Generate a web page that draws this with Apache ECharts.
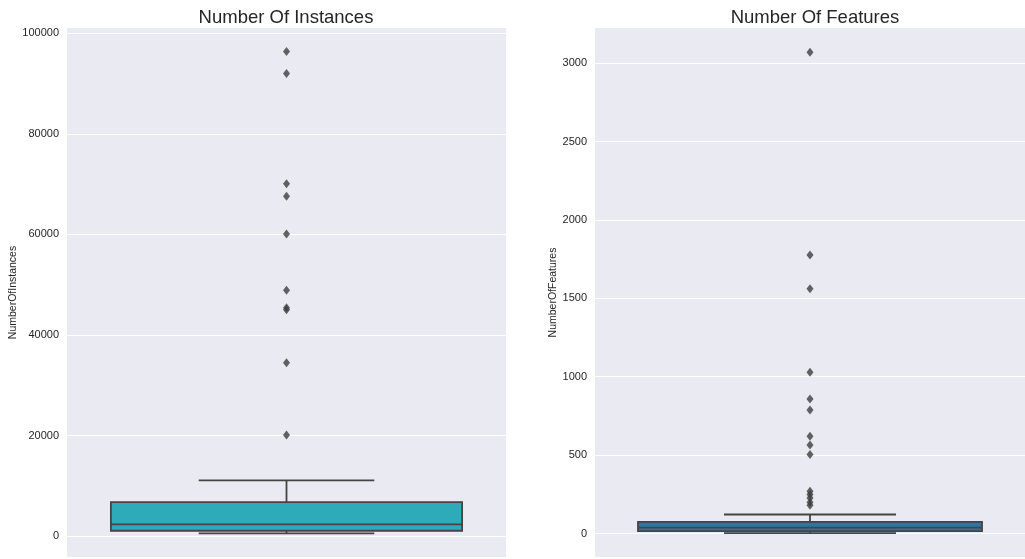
<!DOCTYPE html>
<html>
<head>
<meta charset="utf-8">
<script src="https://cdn.jsdelivr.net/npm/echarts@6/dist/echarts.min.js"></script>
<style>html,body{margin:0;padding:0;background:#fff}#c{width:1025px;height:559px}</style>
</head>
<body>
<div id="c"></div>
<script>
// ---- data ----
const titles = ['Number Of Instances', 'Number Of Features'];
const axisNames = ['NumberOfInstances', 'NumberOfFeatures'];
// [lower whisker, Q1, median, Q3, upper whisker]
const instStats = [540, 1070, 2330, 6780, 11070];
const instOutliers = [20100, 34500, 45000, 45400, 48900, 60100, 67600, 70100, 92000, 96400];
const featStats = [2, 15, 38, 74, 121];
const featOutliers = [180, 200, 226, 248, 270, 504, 564, 621, 788, 858, 1028, 1562, 1776, 3070];
const instTicks = [0, 20000, 40000, 60000, 80000, 100000];
const featTicks = [0, 500, 1000, 1500, 2000, 2500, 3000];
const instRange = [-4150, 101050];
const featRange = [-150, 3225];

const boxColors = ['#2eabb8', '#3274a1'];
const lineColor = '#444444';
const textColor = '#262626';
const font = 'Liberation Sans, Arial, sans-serif';

function makeRender(fill) {
  return function (params, api) {
    const x = api.value(0);
    const lo = api.coord([x, api.value(1)]);
    const q1 = api.coord([x, api.value(2)]);
    const med = api.coord([x, api.value(3)]);
    const q3 = api.coord([x, api.value(4)]);
    const hi = api.coord([x, api.value(5)]);
    const band = api.size([1, 0])[0];
    const bw = band * 0.8, cw = band * 0.4;
    const cx = lo[0];
    const st = { stroke: lineColor, lineWidth: 1.8, fill: null };
    return {
      type: 'group',
      children: [
        { type: 'line', shape: { x1: cx, y1: hi[1], x2: cx, y2: q3[1] }, style: st },
        { type: 'line', shape: { x1: cx, y1: q1[1], x2: cx, y2: lo[1] }, style: st },
        { type: 'line', shape: { x1: cx - cw / 2, y1: hi[1], x2: cx + cw / 2, y2: hi[1] }, style: st },
        { type: 'line', shape: { x1: cx - cw / 2, y1: lo[1], x2: cx + cw / 2, y2: lo[1] }, style: st },
        { type: 'rect', shape: { x: cx - bw / 2, y: q3[1], width: bw, height: q1[1] - q3[1] },
          style: { fill: fill, stroke: lineColor, lineWidth: 1.8 } },
        { type: 'line', shape: { x1: cx - bw / 2, y1: med[1], x2: cx + bw / 2, y2: med[1] }, style: st }
      ]
    };
  };
}

function yAxis(idx, range, ticks, name, gap) {
  return {
    type: 'value', gridIndex: idx, min: range[0], max: range[1],
    name: name, nameLocation: 'middle', nameGap: gap,
    nameTextStyle: { fontSize: 10.5, color: textColor, fontFamily: font },
    axisLine: { show: false }, axisTick: { show: false, customValues: ticks },
    axisLabel: { fontSize: 11, color: textColor, fontFamily: font, margin: 8, customValues: ticks,
      formatter: v => String(v) },
    splitLine: { show: false }
  };
}
function xAxis(idx) {
  return {
    type: 'category', gridIndex: idx, data: [''],
    axisLine: { show: false }, axisTick: { show: false }, axisLabel: { show: false },
    splitLine: { show: false }
  };
}
function gridLines(ticks) {
  return {
    silent: true, symbol: 'none', label: { show: false }, z: 1,
    lineStyle: { color: '#ffffff', type: 'solid', width: 1.2 },
    emphasis: { disabled: true },
    data: ticks.map(v => ({ yAxis: v }))
  };
}

const chart = echarts.init(document.getElementById('c'), null, { renderer: 'canvas' });
chart.setOption({
  animation: false,
  backgroundColor: '#ffffff',
  title: [
    { text: titles[0], left: 281, top: 3, textAlign: 'center',
      textStyle: { fontSize: 18.5, fontWeight: 'normal', color: textColor, fontFamily: font } },
    { text: titles[1], left: 810, top: 3, textAlign: 'center',
      textStyle: { fontSize: 18.5, fontWeight: 'normal', color: textColor, fontFamily: font } }
  ],
  grid: [
    { left: 67, right: 519, top: 28, bottom: 2, show: true, backgroundColor: '#eaeaf2', borderWidth: 0 },
    { left: 595, right: -11, top: 28, bottom: 2, show: true, backgroundColor: '#eaeaf2', borderWidth: 0 }
  ],
  xAxis: [xAxis(0), xAxis(1)],
  yAxis: [
    yAxis(0, instRange, instTicks, axisNames[0], 46),
    yAxis(1, featRange, featTicks, axisNames[1], 35)
  ],
  series: [
    { type: 'custom', xAxisIndex: 0, yAxisIndex: 0, renderItem: makeRender(boxColors[0]),
      encode: { x: 0, y: [1, 2, 3, 4, 5] }, data: [[0].concat(instStats)], z: 3,
      markLine: gridLines(instTicks) },
    { type: 'scatter', xAxisIndex: 0, yAxisIndex: 0, symbol: 'diamond', symbolSize: [7, 9],
      itemStyle: { color: '#3d3d3d' }, data: instOutliers.map(v => [0, v]), z: 4 },
    { type: 'custom', xAxisIndex: 1, yAxisIndex: 1, renderItem: makeRender(boxColors[1]),
      encode: { x: 0, y: [1, 2, 3, 4, 5] }, data: [[0].concat(featStats)], z: 3,
      markLine: gridLines(featTicks) },
    { type: 'scatter', xAxisIndex: 1, yAxisIndex: 1, symbol: 'diamond', symbolSize: [7, 9],
      itemStyle: { color: '#3d3d3d' }, data: featOutliers.map(v => [0, v]), z: 4 }
  ]
});
</script>
</body>
</html>
